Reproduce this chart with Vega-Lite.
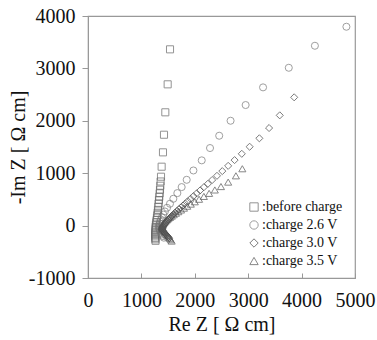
{
  "$schema": "https://vega.github.io/schema/vega-lite/v6.json",
  "autosize": "none",
  "width": 267,
  "height": 262,
  "padding": {"left": 88, "top": 16, "right": 22, "bottom": 62},
  "background": "white",
  "config": {
    "view": {"stroke": "#999", "strokeWidth": 1.2},
    "font": "Liberation Serif",
    "legend": {"orient": "none", "legendX": 159, "legendY": 184, "labelFont": "Liberation Serif", "labelFontSize": 14, "labelColor": "#111", "labelOffset": 1, "symbolSize": 70, "symbolStrokeWidth": 1, "rowPadding": 4, "padding": 0, "symbolFillColor": "transparent"}
  },
  "data": {"values": [
    {"s": "before charge", "x": 1265, "y": -290}, {"s": "before charge", "x": 1262, "y": -262}, {"s": "before charge", "x": 1260, "y": -234}, {"s": "before charge", "x": 1259, "y": -205}, {"s": "before charge", "x": 1259, "y": -176}, {"s": "before charge", "x": 1260, "y": -146}, {"s": "before charge", "x": 1262, "y": -116}, {"s": "before charge", "x": 1264, "y": -84}, {"s": "before charge", "x": 1267, "y": -50}, {"s": "before charge", "x": 1267, "y": -21}, {"s": "before charge", "x": 1272, "y": 20}, {"s": "before charge", "x": 1278, "y": 63}, {"s": "before charge", "x": 1284, "y": 105}, {"s": "before charge", "x": 1291, "y": 150}, {"s": "before charge", "x": 1297, "y": 198}, {"s": "before charge", "x": 1304, "y": 246}, {"s": "before charge", "x": 1310, "y": 300}, {"s": "before charge", "x": 1316, "y": 360}, {"s": "before charge", "x": 1322, "y": 422}, {"s": "before charge", "x": 1329, "y": 488}, {"s": "before charge", "x": 1335, "y": 550}, {"s": "before charge", "x": 1342, "y": 616}, {"s": "before charge", "x": 1348, "y": 685}, {"s": "before charge", "x": 1354, "y": 761}, {"s": "before charge", "x": 1360, "y": 842}, {"s": "before charge", "x": 1367, "y": 933}, {"s": "before charge", "x": 1379, "y": 1124}, {"s": "before charge", "x": 1404, "y": 1398}, {"s": "before charge", "x": 1423, "y": 1734}, {"s": "before charge", "x": 1448, "y": 2162}, {"s": "before charge", "x": 1492, "y": 2696}, {"s": "before charge", "x": 1536, "y": 3364},

    {"s": "charge 2.6 V", "x": 1420, "y": -230}, {"s": "charge 2.6 V", "x": 1402, "y": -200}, {"s": "charge 2.6 V", "x": 1385, "y": -170}, {"s": "charge 2.6 V", "x": 1368, "y": -140}, {"s": "charge 2.6 V", "x": 1352, "y": -110}, {"s": "charge 2.6 V", "x": 1340, "y": -80}, {"s": "charge 2.6 V", "x": 1332, "y": -50}, {"s": "charge 2.6 V", "x": 1330, "y": -20}, {"s": "charge 2.6 V", "x": 1335, "y": 10}, {"s": "charge 2.6 V", "x": 1340, "y": 40}, {"s": "charge 2.6 V", "x": 1350, "y": 75}, {"s": "charge 2.6 V", "x": 1365, "y": 115}, {"s": "charge 2.6 V", "x": 1385, "y": 160}, {"s": "charge 2.6 V", "x": 1410, "y": 210}, {"s": "charge 2.6 V", "x": 1440, "y": 270}, {"s": "charge 2.6 V", "x": 1480, "y": 340}, {"s": "charge 2.6 V", "x": 1535, "y": 417}, {"s": "charge 2.6 V", "x": 1598, "y": 512}, {"s": "charge 2.6 V", "x": 1673, "y": 620}, {"s": "charge 2.6 V", "x": 1754, "y": 735}, {"s": "charge 2.6 V", "x": 1848, "y": 874}, {"s": "charge 2.6 V", "x": 1974, "y": 1052}, {"s": "charge 2.6 V", "x": 2130, "y": 1245}, {"s": "charge 2.6 V", "x": 2285, "y": 1480}, {"s": "charge 2.6 V", "x": 2457, "y": 1715}, {"s": "charge 2.6 V", "x": 2670, "y": 2001}, {"s": "charge 2.6 V", "x": 2952, "y": 2301}, {"s": "charge 2.6 V", "x": 3278, "y": 2638}, {"s": "charge 2.6 V", "x": 3760, "y": 3012}, {"s": "charge 2.6 V", "x": 4249, "y": 3432}, {"s": "charge 2.6 V", "x": 4839, "y": 3795},

    {"s": "charge 3.0 V", "x": 1520, "y": -240}, {"s": "charge 3.0 V", "x": 1504, "y": -220}, {"s": "charge 3.0 V", "x": 1486, "y": -200}, {"s": "charge 3.0 V", "x": 1468, "y": -180}, {"s": "charge 3.0 V", "x": 1450, "y": -160}, {"s": "charge 3.0 V", "x": 1433, "y": -140}, {"s": "charge 3.0 V", "x": 1418, "y": -120}, {"s": "charge 3.0 V", "x": 1405, "y": -100}, {"s": "charge 3.0 V", "x": 1396, "y": -80}, {"s": "charge 3.0 V", "x": 1392, "y": -60}, {"s": "charge 3.0 V", "x": 1395, "y": -40}, {"s": "charge 3.0 V", "x": 1404, "y": -20}, {"s": "charge 3.0 V", "x": 1416, "y": 0}, {"s": "charge 3.0 V", "x": 1430, "y": 20}, {"s": "charge 3.0 V", "x": 1446, "y": 42}, {"s": "charge 3.0 V", "x": 1463, "y": 65}, {"s": "charge 3.0 V", "x": 1482, "y": 88}, {"s": "charge 3.0 V", "x": 1502, "y": 112}, {"s": "charge 3.0 V", "x": 1524, "y": 137}, {"s": "charge 3.0 V", "x": 1548, "y": 163}, {"s": "charge 3.0 V", "x": 1574, "y": 190}, {"s": "charge 3.0 V", "x": 1602, "y": 218}, {"s": "charge 3.0 V", "x": 1632, "y": 247}, {"s": "charge 3.0 V", "x": 1665, "y": 278}, {"s": "charge 3.0 V", "x": 1700, "y": 311}, {"s": "charge 3.0 V", "x": 1738, "y": 346}, {"s": "charge 3.0 V", "x": 1778, "y": 383}, {"s": "charge 3.0 V", "x": 1822, "y": 423}, {"s": "charge 3.0 V", "x": 1870, "y": 466}, {"s": "charge 3.0 V", "x": 1920, "y": 512}, {"s": "charge 3.0 V", "x": 1975, "y": 562}, {"s": "charge 3.0 V", "x": 2035, "y": 615}, {"s": "charge 3.0 V", "x": 2100, "y": 672}, {"s": "charge 3.0 V", "x": 2170, "y": 733}, {"s": "charge 3.0 V", "x": 2245, "y": 798}, {"s": "charge 3.0 V", "x": 2325, "y": 870}, {"s": "charge 3.0 V", "x": 2415, "y": 950}, {"s": "charge 3.0 V", "x": 2515, "y": 1040}, {"s": "charge 3.0 V", "x": 2625, "y": 1140}, {"s": "charge 3.0 V", "x": 2745, "y": 1250}, {"s": "charge 3.0 V", "x": 2880, "y": 1370}, {"s": "charge 3.0 V", "x": 3027, "y": 1505}, {"s": "charge 3.0 V", "x": 3209, "y": 1666}, {"s": "charge 3.0 V", "x": 3391, "y": 1862}, {"s": "charge 3.0 V", "x": 3591, "y": 2104}, {"s": "charge 3.0 V", "x": 3861, "y": 2448},

    {"s": "charge 3.5 V", "x": 1567, "y": -295}, {"s": "charge 3.5 V", "x": 1550, "y": -270}, {"s": "charge 3.5 V", "x": 1528, "y": -242}, {"s": "charge 3.5 V", "x": 1506, "y": -214}, {"s": "charge 3.5 V", "x": 1484, "y": -186}, {"s": "charge 3.5 V", "x": 1462, "y": -158}, {"s": "charge 3.5 V", "x": 1442, "y": -130}, {"s": "charge 3.5 V", "x": 1423, "y": -105}, {"s": "charge 3.5 V", "x": 1407, "y": -80}, {"s": "charge 3.5 V", "x": 1395, "y": -55}, {"s": "charge 3.5 V", "x": 1388, "y": -35}, {"s": "charge 3.5 V", "x": 1387, "y": -15}, {"s": "charge 3.5 V", "x": 1392, "y": 5}, {"s": "charge 3.5 V", "x": 1402, "y": 25}, {"s": "charge 3.5 V", "x": 1416, "y": 45}, {"s": "charge 3.5 V", "x": 1434, "y": 66}, {"s": "charge 3.5 V", "x": 1455, "y": 87}, {"s": "charge 3.5 V", "x": 1479, "y": 109}, {"s": "charge 3.5 V", "x": 1506, "y": 132}, {"s": "charge 3.5 V", "x": 1536, "y": 156}, {"s": "charge 3.5 V", "x": 1569, "y": 181}, {"s": "charge 3.5 V", "x": 1606, "y": 208}, {"s": "charge 3.5 V", "x": 1647, "y": 236}, {"s": "charge 3.5 V", "x": 1692, "y": 266}, {"s": "charge 3.5 V", "x": 1742, "y": 298}, {"s": "charge 3.5 V", "x": 1797, "y": 333}, {"s": "charge 3.5 V", "x": 1858, "y": 370}, {"s": "charge 3.5 V", "x": 1925, "y": 410}, {"s": "charge 3.5 V", "x": 2000, "y": 455}, {"s": "charge 3.5 V", "x": 2080, "y": 503}, {"s": "charge 3.5 V", "x": 2170, "y": 557}, {"s": "charge 3.5 V", "x": 2268, "y": 615}, {"s": "charge 3.5 V", "x": 2375, "y": 680}, {"s": "charge 3.5 V", "x": 2490, "y": 745}, {"s": "charge 3.5 V", "x": 2625, "y": 830}, {"s": "charge 3.5 V", "x": 2770, "y": 950}, {"s": "charge 3.5 V", "x": 2890, "y": 1085}
  ]},
  "mark": {"type": "point", "filled": false, "strokeWidth": 1, "size": 50},
  "encoding": {
    "x": {"field": "x", "type": "quantitative", "scale": {"domain": [0, 5000], "nice": false, "zero": false},
      "axis": {"values": [0, 1000, 2000, 3000, 4000, 5000], "labelExpr": "'' + datum.value", "title": "Re Z [ Ω  cm]", "grid": false, "domainColor": "#999", "tickColor": "#999", "labelColor": "#111", "titleColor": "#111", "labelFont": "Liberation Serif", "titleFont": "Liberation Serif", "labelFontSize": 20, "titleFontSize": 20, "titleFontWeight": "normal", "labelOverlap": false, "labelFlush": false, "tickSize": -5, "labelPadding": 17, "titlePadding": 4}},
    "y": {"field": "y", "type": "quantitative", "scale": {"domain": [-1000, 4000], "nice": false, "zero": false},
      "axis": {"values": [-1000, 0, 1000, 2000, 3000, 4000], "labelExpr": "'' + datum.value", "title": "-Im Z [ Ω  cm]", "grid": false, "domainColor": "#999", "tickColor": "#999", "labelColor": "#111", "titleColor": "#111", "labelFont": "Liberation Serif", "titleFont": "Liberation Serif", "labelFontSize": 20, "titleFontSize": 20, "titleFontWeight": "normal", "labelOverlap": false, "labelFlush": false, "tickSize": 6, "labelPadding": 7, "titlePadding": 0}},
    "shape": {"field": "s", "type": "nominal", "title": null,
      "scale": {"domain": ["before charge", "charge 2.6 V", "charge 3.0 V", "charge 3.5 V"], "range": ["square", "circle", "diamond", "triangle-up"]},
      "legend": {"labelExpr": "':' + datum.label"}},
    "color": {"field": "s", "type": "nominal", "title": null,
      "scale": {"domain": ["before charge", "charge 2.6 V", "charge 3.0 V", "charge 3.5 V"], "range": ["#666", "#777", "#444", "#555"]},
      "legend": {"labelExpr": "':' + datum.label"}}
  }
}
